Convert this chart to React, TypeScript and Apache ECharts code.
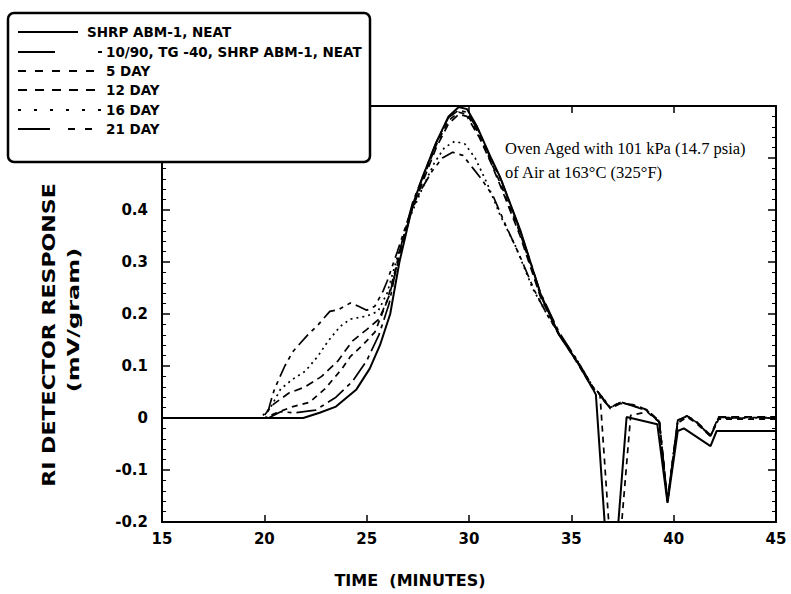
import React, { useEffect, useRef } from "react";
import * as echarts from "echarts";

type Pt = [number, number];

// ---- axis ranges & texts ----
const X_MIN = 15;
const X_MAX = 45;
const X_STEP = 5;
const Y_MIN = -0.2;
const Y_MAX = 0.6;
const Y_STEP = 0.1;

const X_TITLE = "TIME  (MINUTES)";
const Y_TITLE = "RI DETECTOR RESPONSE";
const Y_UNIT = "(mV/gram)";
const NOTE_LINES = ["Oven Aged with 101 kPa (14.7 psia)", "of Air at 163°C (325°F)"];

const SERIES_NAMES = [
  "SHRP ABM-1, NEAT",
  "10/90, TG -40, SHRP ABM-1, NEAT",
  "5 DAY",
  "12 DAY",
  "16 DAY",
  "21 DAY",
];

// ---- series values [time (min), response (mV/gram)] ----
const neat: Pt[] = [
  [15, 0], [21.9, 0], [22.7, 0.01], [23.5, 0.022], [24.5, 0.055], [25.15, 0.095],
  [25.65, 0.14], [26.15, 0.2], [26.6, 0.3], [27.25, 0.41], [27.75, 0.465], [28.4, 0.53],
  [29.0, 0.58], [29.5, 0.598], [29.9, 0.594], [30.4, 0.56], [31.1, 0.498], [31.5, 0.465],
  [32.5, 0.362], [33.5, 0.238], [34.4, 0.16], [35.3, 0.107], [36.05, 0.056], [36.2, 0.045],
  [36.8, -0.3], [37.1, -0.3], [37.7, 0.002], [39.2, -0.012], [39.7, -0.163], [40.2, -0.025],
  [40.5, -0.02], [41.8, -0.054], [42.1, -0.025], [45, -0.025],
];

const blend1090: Pt[] = [
  [15, 0], [20.2, 0], [20.8, 0.012], [21.5, 0.01], [22.5, 0.015], [23.5, 0.04],
  [24.3, 0.07], [25.0, 0.11], [25.6, 0.16], [26.1, 0.22], [26.6, 0.32], [27.25, 0.415],
  [27.8, 0.47], [28.4, 0.53], [29.0, 0.578], [29.5, 0.592], [29.9, 0.588], [30.5, 0.55],
  [31.1, 0.495], [31.6, 0.455], [32.5, 0.36], [33.5, 0.24], [34.4, 0.165], [35.3, 0.11],
  [36.05, 0.06], [36.3, 0.05], [36.65, 0.03], [36.9, 0.02], [37.4, 0.031], [38.0, 0.023],
  [38.7, 0.014], [39.3, -0.008], [39.7, -0.16], [40.2, -0.005], [40.65, 0.004],
  [41.1, -0.008], [41.8, -0.035], [42.2, 0], [45, 0],
];

const day5: Pt[] = [
  [15, 0], [20.0, 0], [20.6, 0.01], [21.4, 0.022], [22.2, 0.03], [22.96, 0.056],
  [23.8, 0.095], [24.2, 0.118], [24.8, 0.14], [25.4, 0.165], [26.0, 0.225], [26.5, 0.3],
  [27.1, 0.39], [27.7, 0.455], [28.4, 0.525], [29.0, 0.572], [29.5, 0.588], [29.9, 0.584],
  [30.5, 0.545], [31.1, 0.49], [31.6, 0.445], [32.5, 0.355], [33.5, 0.235], [34.4, 0.162],
  [35.3, 0.105], [36.0, 0.06], [36.4, 0.045], [37.0, -0.3], [37.25, -0.3], [37.9, 0.005],
  [38.7, 0.012], [39.3, -0.008], [39.7, -0.16], [40.2, -0.01], [40.65, 0.002],
  [41.1, -0.01], [41.8, -0.035], [42.2, -0.002], [45, -0.002],
];

const day12: Pt[] = [
  [15, 0], [19.9, 0], [20.4, 0.025], [21.2, 0.048], [22.0, 0.06], [22.8, 0.08],
  [23.6, 0.11], [24.3, 0.148], [25.0, 0.17], [25.6, 0.19], [26.1, 0.235], [26.6, 0.31],
  [27.2, 0.4], [27.8, 0.46], [28.4, 0.52], [29.0, 0.566], [29.5, 0.584], [29.9, 0.58],
  [30.5, 0.54], [31.1, 0.488], [31.6, 0.44], [32.5, 0.35], [33.5, 0.232], [34.4, 0.16],
  [35.3, 0.108], [36.05, 0.058], [36.3, 0.05], [36.6, 0.035], [36.9, 0.018], [37.4, 0.028],
  [38.0, 0.026], [38.7, 0.016], [39.3, -0.006], [39.7, -0.16], [40.2, -0.004],
  [40.65, 0.004], [41.1, -0.006], [41.8, -0.033], [42.2, 0.002], [45, 0.002],
];

const day16: Pt[] = [
  [15, 0], [19.8, 0], [20.3, 0.02], [20.8, 0.056], [21.4, 0.075], [22.0, 0.09],
  [22.6, 0.118], [23.1, 0.147], [23.7, 0.176], [24.2, 0.19], [25.0, 0.196], [25.55, 0.205],
  [26.0, 0.24], [26.5, 0.31], [27.1, 0.385], [27.7, 0.44], [28.3, 0.49], [28.8, 0.52],
  [29.3, 0.532], [29.8, 0.527], [30.3, 0.5], [30.9, 0.45], [31.5, 0.392], [32.3, 0.328],
  [33.1, 0.25], [33.8, 0.2], [34.4, 0.162], [35.3, 0.11], [36.05, 0.06], [36.3, 0.05],
  [36.6, 0.036], [36.9, 0.02], [37.4, 0.03], [38.0, 0.024], [38.7, 0.014], [39.3, -0.008],
  [39.7, -0.16], [40.2, -0.006], [40.65, 0.004], [41.1, -0.008], [41.8, -0.035],
  [42.2, 0], [45, 0],
];

const day21: Pt[] = [
  [15, 0], [20.1, 0], [20.3, 0.03], [20.5, 0.056], [21.0, 0.1], [21.4, 0.128],
  [22.1, 0.159], [22.6, 0.178], [23.2, 0.205], [23.6, 0.208], [24.2, 0.221], [24.6, 0.215],
  [25.0, 0.207], [25.4, 0.215], [25.8, 0.244], [26.0, 0.263], [26.5, 0.32], [27.0, 0.38],
  [27.6, 0.435], [28.2, 0.475], [28.7, 0.5], [29.2, 0.511], [29.7, 0.505], [30.2, 0.48],
  [30.6, 0.46], [31.2, 0.425], [31.8, 0.37], [32.5, 0.31], [33.2, 0.245], [33.8, 0.2],
  [34.4, 0.16], [35.3, 0.108], [36.05, 0.058], [36.3, 0.05], [36.6, 0.035], [36.9, 0.02],
  [37.4, 0.03], [38.0, 0.024], [38.7, 0.015], [39.3, -0.007], [39.7, -0.16], [40.2, -0.005],
  [40.65, 0.004], [41.1, -0.008], [41.8, -0.034], [42.2, 0.001], [45, 0.001],
];

const SERIES_DATA: Pt[][] = [neat, blend1090, day5, day12, day16, day21];

// ---- styles ----
const PLOT_DASH: (string | number[])[] = [
  "solid",
  [20, 5, 4, 5],
  [6, 5],
  [8, 5],
  [2, 4],
  [14, 5, 4, 5, 4, 5],
];
const LEGEND_DASH: (number[] | null)[] = [
  null,
  [37, 43, 4, 100],
  [8, 9],
  [9, 8],
  [3, 13],
  [32, 18, 7, 10, 7, 10, 4, 100],
];

const SANS = '"DejaVu Sans", "Liberation Sans", Arial, sans-serif';
const SERIF = '"Liberation Serif", "Times New Roman", serif';

function buildOption(): echarts.EChartsCoreOption {
  const legendTop = 13;
  const rowY = [32, 52, 71, 90, 110, 129];
  const legendEls: any[] = [
    {
      type: "rect",
      shape: { x: 8, y: legendTop, width: 362, height: 149, r: 6 },
      style: { fill: "#fff", stroke: "#000", lineWidth: 2.5 },
      z: 100,
    },
  ];
  SERIES_NAMES.forEach((name, i) => {
    const y = rowY[i];
    const solid = LEGEND_DASH[i] === null;
    legendEls.push({
      type: "line",
      shape: { x1: 18, y1: y, x2: solid ? 78 : 102, y2: y },
      style: {
        stroke: "#000",
        lineWidth: 1.8,
        lineDash: solid ? null : LEGEND_DASH[i],
      },
      z: 101,
    });
    legendEls.push({
      type: "text",
      x: solid ? 87 : 106,
      y,
      style: {
        text: name,
        font: `bold 13.5px ${SANS}`,
        fill: "#000",
        textAlign: "left",
        textVerticalAlign: "middle",
      },
      z: 101,
    });
  });

  const otherEls: any[] = [
    {
      type: "text",
      x: 505,
      y: 148,
      style: {
        text: NOTE_LINES[0],
        font: `16.5px ${SERIF}`,
        fill: "#000",
        textAlign: "left",
        textVerticalAlign: "middle",
      },
      z: 50,
    },
    {
      type: "text",
      x: 505,
      y: 172,
      style: {
        text: NOTE_LINES[1],
        font: `16.5px ${SERIF}`,
        fill: "#000",
        textAlign: "left",
        textVerticalAlign: "middle",
      },
      z: 50,
    },
    {
      type: "text",
      x: 410,
      y: 580,
      style: {
        text: X_TITLE,
        font: `bold 16px ${SANS}`,
        fill: "#000",
        textAlign: "center",
        textVerticalAlign: "middle",
      },
    },
    {
      type: "text",
      x: 49,
      y: 335,
      rotation: Math.PI / 2,
      scaleX: 1.3,
      style: {
        text: Y_TITLE,
        font: `bold 17px ${SANS}`,
        fill: "#000",
        textAlign: "center",
        textVerticalAlign: "middle",
      },
    },
    {
      type: "text",
      x: 74,
      y: 320,
      rotation: Math.PI / 2,
      scaleX: 1.5,
      style: {
        text: Y_UNIT,
        font: `bold 16px ${SANS}`,
        fill: "#000",
        textAlign: "center",
        textVerticalAlign: "middle",
      },
    },
  ];

  const axisLine = { onZero: false, lineStyle: { color: "#000", width: 2 } };
  const labelStyle = {
    color: "#000",
    fontSize: 15,
    fontWeight: "bold" as const,
    fontFamily: SANS,
  };

  return {
    animation: false,
    backgroundColor: "#fff",
    grid: { left: 162, right: 15, top: 106, bottom: 72, containLabel: false },
    xAxis: [
      {
        type: "value",
        position: "bottom",
        min: X_MIN,
        max: X_MAX,
        interval: X_STEP,
        axisLine,
        axisTick: { inside: true, length: 7, lineStyle: { color: "#000", width: 1.5 } },
        axisLabel: { ...labelStyle, margin: 9 },
        splitLine: { show: false },
      },
      {
        type: "value",
        position: "top",
        min: X_MIN,
        max: X_MAX,
        interval: X_STEP,
        axisLine,
        axisTick: { inside: true, length: 7, lineStyle: { color: "#000", width: 1.5 } },
        axisLabel: { show: false },
        splitLine: { show: false },
      },
    ],
    yAxis: [
      {
        type: "value",
        position: "left",
        min: Y_MIN,
        max: Y_MAX,
        interval: Y_STEP,
        axisLine,
        axisTick: { inside: true, length: 8, lineStyle: { color: "#000", width: 1.5 } },
        minorTick: { show: true, splitNumber: 5, length: 4, lineStyle: { color: "#000", width: 1 } },
        axisLabel: {
          ...labelStyle,
          margin: 14,
          formatter: (v: number) => {
            if (Math.abs(v) < 1e-9) return "0";
            if (v > 0.45) return "";
            return v.toFixed(1);
          },
        },
        splitLine: { show: false },
        minorSplitLine: { show: false },
      },
      {
        type: "value",
        position: "right",
        min: Y_MIN,
        max: Y_MAX,
        interval: Y_STEP,
        axisLine,
        axisTick: { inside: true, length: 8, lineStyle: { color: "#000", width: 1.5 } },
        minorTick: { show: true, splitNumber: 5, length: 4, lineStyle: { color: "#000", width: 1 } },
        axisLabel: { show: false },
        splitLine: { show: false },
      },
    ],
    series: SERIES_DATA.map((d, i) => ({
      type: "line",
      name: SERIES_NAMES[i],
      data: d,
      xAxisIndex: 0,
      yAxisIndex: 0,
      symbol: "none",
      showSymbol: false,
      clip: true,
      silent: true,
      lineStyle: { color: "#000", width: i === 0 ? 2 : 1.7, type: PLOT_DASH[i] as any },
    })),
    graphic: { elements: [...otherEls, ...legendEls] },
  };
}

export default function App() {
  const ref = useRef<HTMLDivElement>(null);
  useEffect(() => {
    if (!ref.current) return;
    const chart = echarts.init(ref.current, undefined, { renderer: "svg" });
    chart.setOption(buildOption());
    return () => chart.dispose();
  }, []);
  return (
    <div
      ref={ref}
      style={{ position: "fixed", left: 0, top: 0, width: 791, height: 594, background: "#fff" }}
    />
  );
}
